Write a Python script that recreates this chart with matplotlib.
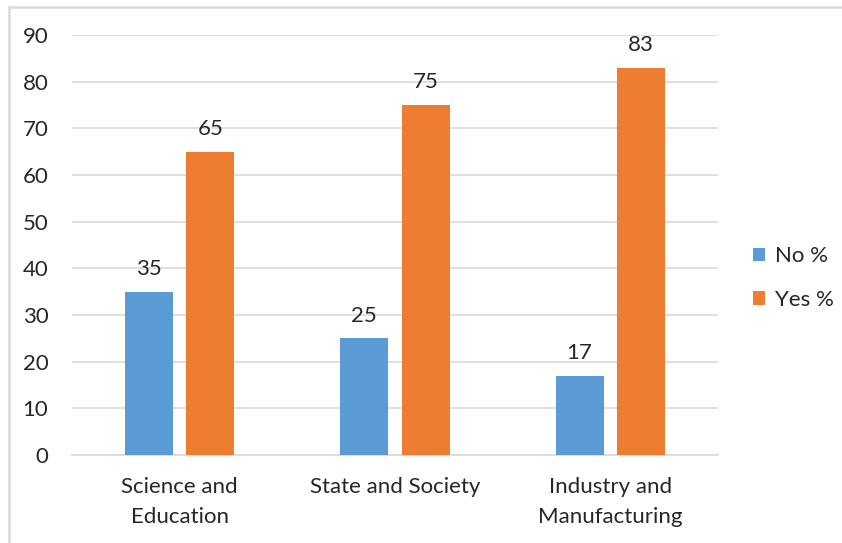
import matplotlib
matplotlib.use("Agg")
import matplotlib.pyplot as plt
import numpy as np
from matplotlib.patches import Rectangle

categories = ["Science and\nEducation", "State and Society", "Industry and\nManufacturing"]
no_pct = [35, 25, 17]
yes_pct = [65, 75, 83]
yticks = list(range(0, 91, 10))

plt.rcParams['font.family'] = ['Lato', 'DejaVu Sans']
FS = 16
fig = plt.figure(figsize=(8.42, 5.43), dpi=100)
ax = fig.add_axes([72/842, 88/543, 646/842, 420/543])

x = np.arange(len(categories))
w = 0.223
off = 0.143
blue = '#5B9BD5'
orange = '#ED7D31'
b1 = ax.bar(x - off, no_pct, w, color=blue, label='No %', zorder=3)
b2 = ax.bar(x + off, yes_pct, w, color=orange, label='Yes %', zorder=3)
for bars, vals in ((b1, no_pct), (b2, yes_pct)):
    for r, v in zip(bars, vals):
        ax.text(r.get_x() + r.get_width()/2, v + 3.6, f"{v}", ha='center', va='baseline',
                fontsize=FS, color='#262626', zorder=4)

ax.set_xlim(-0.5, 2.5)
ax.set_ylim(0, 90)
ax.set_yticks(yticks)
ax.set_xticks(x)
ax.set_xticklabels(categories, fontsize=FS, color='#262626', linespacing=1.6)
ax.tick_params(axis='y', labelsize=FS, colors='#262626', length=0, pad=17)
ax.tick_params(axis='x', length=0, pad=16)
ax.grid(axis='y', color='#D9D9D9', linewidth=1.2, zorder=0)
for s in ['top', 'right', 'left']:
    ax.spines[s].set_visible(False)
ax.spines['bottom'].set_color('#D9D9D9')
ax.spines['bottom'].set_linewidth(1.2)

leg = fig.legend(handles=[b1, b2], labels=['No %', 'Yes %'], loc='center left',
                 bbox_to_anchor=(753/842, 1 - 278/543), frameon=False, fontsize=FS,
                 borderaxespad=0, borderpad=0,
                 handlelength=0.55, handleheight=0.55, handletextpad=0.45, labelspacing=1.05)
for t in leg.get_texts():
    t.set_color('#262626')

fig.patches.append(Rectangle((9/842, -0.1), 1.0, 1 - 7/543 + 0.1, transform=fig.transFigure,
                             fill=False, edgecolor='#D9D9D9', linewidth=1.8))
fig.savefig('out.png', dpi=100)
